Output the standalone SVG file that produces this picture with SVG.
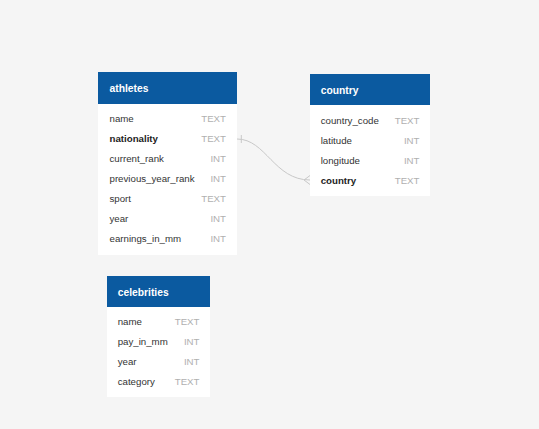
<svg xmlns="http://www.w3.org/2000/svg" width="539" height="429" viewBox="0 0 539 429">
<style>
.hdr{fill:#0b5aa0}
.body{fill:#ffffff}
.title{font-family:"Liberation Sans",Arial,sans-serif;font-size:10.3px;font-weight:bold;fill:#ffffff}
.fld{font-family:"Liberation Sans",Arial,sans-serif;font-size:9.7px;fill:#333333}
.fld.b{font-weight:bold;fill:#222222}
.typ{font-family:"Liberation Sans",Arial,sans-serif;font-size:9.7px;fill:#b0b0b0;text-anchor:end}
.conn{fill:none;stroke:#c8c8c8;stroke-width:1}
</style>
<rect width="539" height="429" fill="#f5f5f5"/>
<g id="connectors">
<path class="conn" d="M237,139 C266,139 274,180 310,180"/>
<path class="conn" d="M241.3,135 V143"/>
<path class="conn" d="M310,175.5 L304,180 L310,184.5"/>
</g>
<g id="athletes">
<rect class="body" x="98" y="104" width="139" height="151"/>
<rect class="hdr" x="98" y="72" width="139" height="32"/>
<text class="title" x="109.5" y="92">athletes</text>
<text class="fld" x="109.5" y="122">name</text><text class="typ" x="226" y="122">TEXT</text>
<text class="fld b" x="109.5" y="142">nationality</text><text class="typ" x="226" y="142">TEXT</text>
<text class="fld" x="109.5" y="162">current_rank</text><text class="typ" x="226" y="162">INT</text>
<text class="fld" x="109.5" y="182">previous_year_rank</text><text class="typ" x="226" y="182">INT</text>
<text class="fld" x="109.5" y="202">sport</text><text class="typ" x="226" y="202">TEXT</text>
<text class="fld" x="109.5" y="222">year</text><text class="typ" x="226" y="222">INT</text>
<text class="fld" x="109.5" y="242">earnings_in_mm</text><text class="typ" x="226" y="242">INT</text>
</g>
<g id="country">
<rect class="body" x="310" y="105" width="120" height="91"/>
<rect class="hdr" x="310" y="74" width="120" height="31"/>
<text class="title" x="320.7" y="94">country</text>
<text class="fld" x="320.7" y="124">country_code</text><text class="typ" x="419.5" y="124">TEXT</text>
<text class="fld" x="320.7" y="144">latitude</text><text class="typ" x="419.5" y="144">INT</text>
<text class="fld" x="320.7" y="164">longitude</text><text class="typ" x="419.5" y="164">INT</text>
<text class="fld b" x="320.7" y="184">country</text><text class="typ" x="419.5" y="184">TEXT</text>
</g>
<g id="celebrities">
<rect class="body" x="107" y="307" width="103" height="90"/>
<rect class="hdr" x="107" y="276" width="103" height="31"/>
<text class="title" x="117.7" y="296">celebrities</text>
<text class="fld" x="117.7" y="324.5">name</text><text class="typ" x="199.5" y="324.5">TEXT</text>
<text class="fld" x="117.7" y="344.5">pay_in_mm</text><text class="typ" x="199.5" y="344.5">INT</text>
<text class="fld" x="117.7" y="364.5">year</text><text class="typ" x="199.5" y="364.5">INT</text>
<text class="fld" x="117.7" y="384.5">category</text><text class="typ" x="199.5" y="384.5">TEXT</text>
</g>
</svg>
